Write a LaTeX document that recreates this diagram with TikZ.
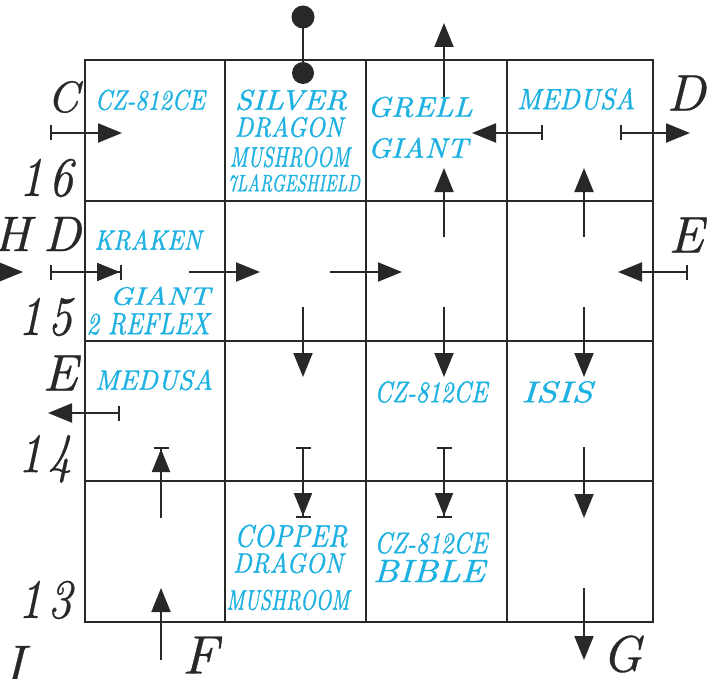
\documentclass[tikz,border=0pt]{standalone}
\usepackage{fontspec}
\newfontfamily\cyfont{lmroman10-italic.otf}[FakeBold=1.2]
\newfontfamily\bkfont{lmroman10-italic.otf}[FakeBold=0.6]
\usetikzlibrary{arrows.meta}
\definecolor{cytext}{RGB}{30,178,226}
\definecolor{ink}{RGB}{40,40,40}
\newcommand{\fitt}[3]{\resizebox{#1pt}{#2pt}{\cyfont #3}}
\newcommand{\fitb}[3]{\resizebox{#1pt}{#2pt}{\bkfont #3}}
\newcommand{\fith}[2]{\resizebox{!}{#1pt}{\bkfont #2}}
\begin{document}
\begin{tikzpicture}[x=1pt,y=-1pt,
  gridln/.style={line width=2.4pt, draw=ink},
  tipT/.style={},
  arr/.style={line width=2pt, draw=ink, -{Triangle[length=24pt,width=19pt]}},
  bararr/.style={line width=2pt, draw=ink, {Bar[width=15pt]}-{Triangle[length=24pt,width=19pt]}},
  arrbar/.style={line width=2pt, draw=ink, -{Triangle[length=23pt,width=18pt,sep=0pt]Bar[width=15pt]}},
  bararrbar/.style={line width=2pt, draw=ink, {Bar[width=15pt]}-{Triangle[length=23pt,width=18pt,sep=0pt]Bar[width=15pt]}},
  cy/.style={text=cytext, inner sep=0pt, anchor=center},
  bk/.style={text=ink, inner sep=0pt, anchor=center}]
\useasboundingbox (0,0) rectangle (714,679);
\fill[white] (0,0) rectangle (714,679);
% grid
\draw[gridln] (85,60) rectangle (653,622);
\foreach \x in {225,366,507} \draw[gridln] (\x,60) -- (\x,622);
\foreach \y in {201,341,481} \draw[gridln] (85,\y) -- (653,\y);
% pin
\draw[line width=2.6pt, draw=ink] (303,17) coordinate (pinA) -- (303,73) coordinate (pinB);
\fill[ink] (pinA) circle (11.5);
\fill[ink] (pinB) circle (11);
% row 1 arrows
\draw[arr] (444,97) -- (444,23);
\draw[bararr] (50,133) -- (122,133);
\draw[bararr] (543,133) -- (472,133);
\draw[bararr] (620,133) -- (690,133);
\draw[arr] (444,237) -- (444,168);
\draw[arr] (584,237) -- (584,168);
% row 2 arrows
\draw[arr] (-12,272) -- (23,272);
\draw[bararrbar] (50,272) -- (122,272);
\draw[arr] (189,272) -- (260,272);
\draw[arr] (330,272) -- (402,272);
\draw[bararr] (688,272) -- (618,272);
\draw[arr] (303,307) -- (303,377);
\draw[arr] (444,307) -- (444,377);
\draw[arr] (584,307) -- (584,377);
% row 3 arrows
\draw[bararr] (120,413) -- (48,413);
\draw[arrbar] (161,518) -- (161,447);
\draw[bararrbar] (303,447) -- (303,518);
\draw[bararrbar] (444,447) -- (444,518);
\draw[arr] (584,447) -- (584,518);
% row 4 arrows
\draw[arr] (161,660) -- (161,588);
\draw[arr] (584,588) -- (584,660);
% cyan labels
\node[cy] (t1) at (150,100) {\fitt{110}{20}{CZ-812CE}};
\node[cy] (t2) at (291,100) {\fitt{112}{20}{SILVER}};
\node[cy] (t3) at (289,127) {\fitt{108}{20}{DRAGON}};
\node[cy] (t4) at (290,157) {\fitt{120}{20}{MUSHROOM}};
\node[cy] (t5) at (294,183) {\fitt{132}{17}{7LARGESHIELD}};
\node[cy] (t6) at (420,107) {\fitt{105}{20}{GRELL}};
\node[cy] (t7) at (418,148) {\fitt{100}{20}{GIANT}};
\node[cy] (t8) at (576,99) {\fitt{118}{21}{MEDUSA}};
\node[cy] (t9) at (148,240) {\fitt{107}{20}{KRAKEN}};
\node[cy] (t10) at (160,296) {\fitt{100}{18}{GIANT}};
\node[cy] (t11) at (148,324) {\fitt{123}{21}{2\ REFLEX}};
\node[cy] (t12) at (154,380) {\fitt{118}{20}{MEDUSA}};
\node[cy] (t13) at (431,392) {\fitt{113}{21}{CZ-812CE}};
\node[cy] (t14) at (557,392) {\fitt{71}{21}{ISIS}};
\node[cy] (t15) at (291,536) {\fitt{113}{22}{COPPER}};
\node[cy] (t16) at (288,563) {\fitt{110}{20}{DRAGON}};
\node[cy] (t17) at (288,600) {\fitt{123}{20}{MUSHROOM}};
\node[cy] (t18) at (431,543) {\fitt{113}{21}{CZ-812CE}};
\node[cy] (t19) at (429,571) {\fitt{112}{22}{BIBLE}};
% black labels
\node[bk] (lC) at (63,97) {\fith{31}{C}};
\node[bk] (lD1) at (686,93) {\fith{35}{D}};
\node[bk] (lH) at (12,234) {\fith{34}{H}};
\node[bk] (lD2) at (62,234) {\fith{34}{D}};
\node[bk] (lE1) at (60,373) {\fith{35}{E}};
\node[bk] (lE2) at (686,235) {\fith{35}{E}};
\node[bk] (lI) at (14,664) {\fith{36}{I}};
\node[bk] (lF) at (200,655) {\fith{37}{F}};
\node[bk] (lG) at (622,654) {\fith{36}{G}};
\node[bk] (n16) at (46,178) {\fitb{54}{37}{1\hspace{0.12em}6}};
\node[bk] (n15) at (45,317) {\fitb{54}{37}{1\hspace{0.12em}5}};
\node[bk] (n14) at (45,459) {\fitb{54}{37}{1\hspace{0.12em}4}};
\node[bk] (n13) at (45,600) {\fitb{54}{37}{1\hspace{0.12em}3}};
\end{tikzpicture}
\end{document}
